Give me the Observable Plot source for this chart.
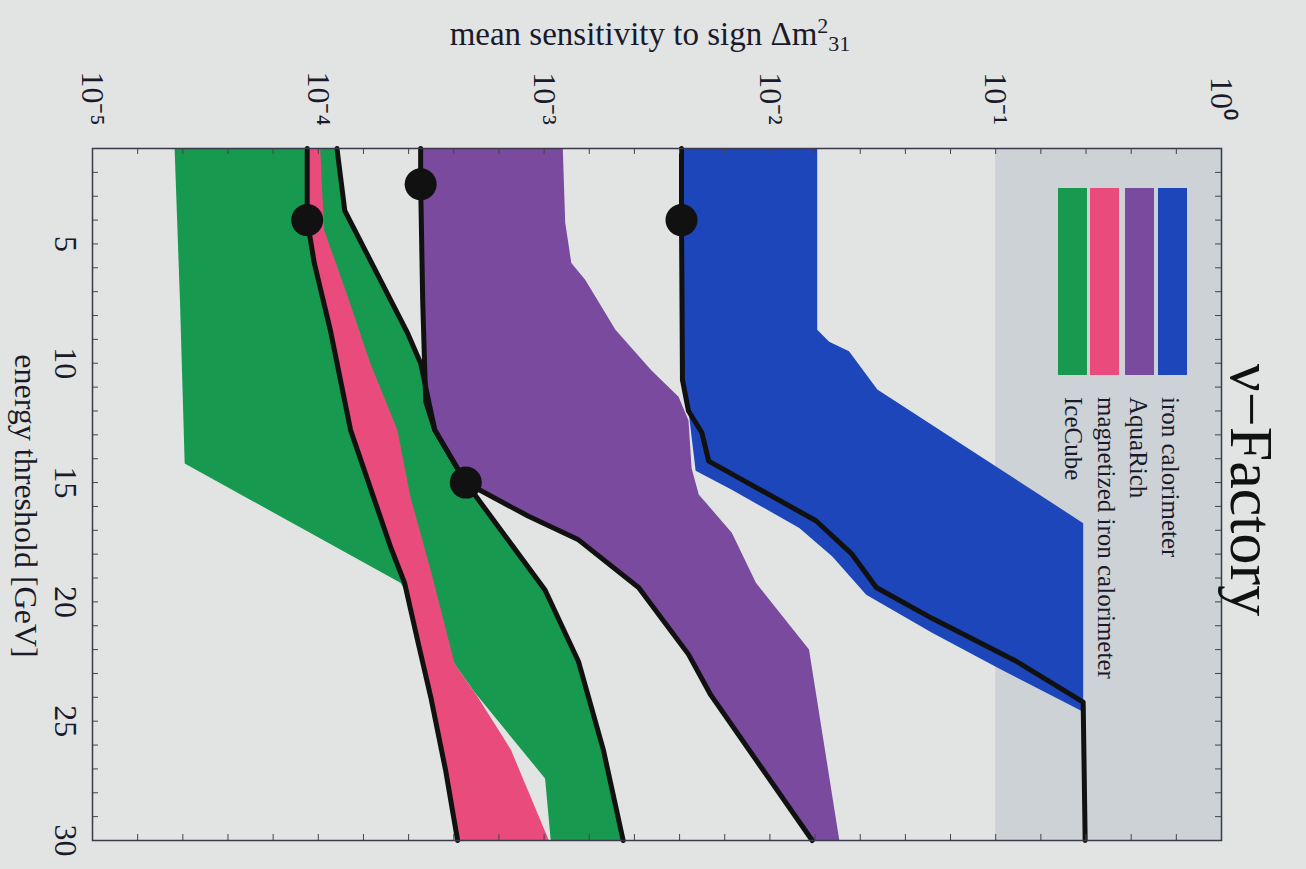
<!DOCTYPE html>
<html><head><meta charset="utf-8">
<script src="https://cdn.jsdelivr.net/npm/d3@7"></script>
<script src="https://cdn.jsdelivr.net/npm/@observablehq/plot@0.6"></script>
<style>
html,body{margin:0;padding:0;background:#dfe2e1;}
#chart{width:1306px;height:869px;}
svg text{font-family:"Liberation Serif",serif;}
</style></head><body><div id="chart"></div>
<script>
// ---- tick labels ----
const sensTicks = [1e-5, 1e-4, 1e-3, 1e-2, 1e-1, 1];
const sensTickLabels = ["10⁻⁵", "10⁻⁴", "10⁻³", "10⁻²", "10⁻¹", "10⁰"];
const energyTicks = [5, 10, 15, 20, 25, 30];
const shadeRange = [0.1, 1];
// ---- legend ----
const detectors = ["iron calorimeter", "AquaRich", "magnetized iron calorimeter", "IceCube"];
const colors = ["#1c46b9", "#7a4a9e", "#e94b7c", "#17994f"];
// ---- data: [energy threshold GeV, mean sensitivity] ----
// IceCube
const iceLow = [[1,2.31e-5],[7.4,2.44e-5],[14.2,2.56e-5],[19.2,2.31e-4],[21.6,3.38e-4],[23.8,4.93e-4],[27.4,1.01e-3],[30,1.07e-3]];
const iceLine = [[1,1.21e-4],[3.6,1.31e-4],[8.75,2.49e-4],[10,2.84e-4],[12.8,3.28e-4],[15,4.5e-4],[19.5,1.01e-3],[22.5,1.42e-3],[26.2,1.83e-3],[30,2.24e-3]];
const iceDot = [15, 4.5e-4];
// magnetized iron calorimeter
const magLine = [[1,8.93e-5],[4,8.93e-5],[5.8,9.6e-5],[8.6,1.13e-4],[12.8,1.39e-4],[17.7,2.09e-4],[19.2,2.41e-4],[21.6,2.75e-4],[24,3.15e-4],[27.1,3.67e-4],[30,4.14e-4]];
const magHigh = [[1,1.02e-4],[4.4,1.06e-4],[7.2,1.35e-4],[10,1.70e-4],[12.8,2.24e-4],[15.6,2.56e-4],[18.7,3.15e-4],[22.6,4.02e-4],[24,5.09e-4],[26.2,7.13e-4],[30,1.05e-3]];
const magDot = [4, 8.93e-5];
// AquaRich
const aquaLine = [[1,2.84e-4],[2.5,2.84e-4],[7.4,2.9e-4],[11.6,2.99e-4],[12.8,3.28e-4],[15,4.5e-4],[16.4,8.49e-4],[17.4,1.42e-3],[19.4,2.62e-3],[22.2,4.36e-3],[23.9,5.47e-3],[30,1.54e-2]];
const aquaHigh = [[1,1.21e-3],[4.1,1.24e-3],[5.8,1.32e-3],[6.5,1.52e-3],[8.6,2.07e-3],[10.3,2.99e-3],[11.4,3.94e-3],[12.4,4.36e-3],[14.4,4.5e-3],[15.5,4.84e-3],[17.1,6.78e-3],[19.2,8.67e-3],[22,1.49e-2],[30,2.03e-2]];
const aquaDot = [2.5, 2.84e-4];
// iron calorimeter
const ironLine = [[1,4.06e-3],[4,4.06e-3],[10.7,4.1e-3],[12,4.36e-3],[12.9,4.99e-3],[14.1,5.36e-3],[16.6,1.6e-2],[18,2.31e-2],[19.4,2.96e-2],[20.7,5.25e-2],[22.5,1.24e-1],[24.2,2.44e-1],[30,2.49e-1]];
const ironLow = [[1,4.06e-3],[10.7,4.1e-3],[12,4.36e-3],[14.5,4.69e-3],[15.3,6.78e-3],[16.9,1.35e-2],[18.1,1.89e-2],[19.7,2.67e-2],[21.3,5.25e-2],[22.8,1.04e-1],[24.6,2.44e-1]];
const ironHigh = [[1,1.62e-2],[8.6,1.62e-2],[9.1,1.83e-2],[9.5,2.24e-2],[11.1,2.99e-2],[16.7,2.44e-1],[24.6,2.44e-1]];
const ironDot = [4, 4.06e-3];

const poly = (low, high) => low.concat(high.slice().reverse());
const bands = [
  {pts: poly(iceLow, iceLine), color: colors[3]},
  {pts: poly(magLine, magHigh), color: colors[2]},
  {pts: poly(aquaLine, aquaHigh), color: colors[1]},
  {pts: poly(ironLow, ironHigh), color: colors[0]}
];
const curves = [iceLine, magLine, aquaLine, ironLine];
const dots = [iceDot, magDot, aquaDot, ironDot];

const W = 1306, H = 869, mT = 148, mB = 29, mL = 92, mR = 85;
const fw = W - mL - mR, fh = H - mT - mB;
const minorX = d3.range(-5, 0.001, 0.2).map(e => Math.pow(10, e));
const minorY = d3.range(1, 31, 1);

const marks = [
  Plot.rect([shadeRange], {x1: d => d[0], x2: d => d[1], fill: "#cdd2d7"}),
];
for (const b of bands) marks.push(Plot.line(b.pts, {x: d => d[1], y: d => d[0], fill: b.color, stroke: "none"}));
for (const c of curves) marks.push(Plot.line(c, {x: d => d[1], y: d => d[0], stroke: "#111", strokeWidth: 5, curve: "linear"}));
marks.push(Plot.dot(dots, {x: d => d[1], y: d => d[0], r: 16, fill: "#111", stroke: "none"}));
marks.push(
  Plot.tickY(minorY, {y: d => d, insetRight: fw - 6, stroke: "#444", strokeWidth: 1}),
  Plot.tickY(minorY, {y: d => d, insetLeft: fw - 6, stroke: "#444", strokeWidth: 1}),
  Plot.tickX(minorX, {x: d => d, insetBottom: fh - 6, stroke: "#444", strokeWidth: 1}),
  Plot.tickX(minorX, {x: d => d, insetTop: fh - 6, stroke: "#444", strokeWidth: 1}),
  Plot.frame({stroke: "#3a3a4a", strokeWidth: 1.5}),
  Plot.text(sensTicks, {x: d => d, text: (d, i) => sensTickLabels[i], frameAnchor: "top", dy: -50, rotate: 90, textAnchor: "middle", lineAnchor: "middle", fontSize: 32, fill: "#1a1a2a"}),
  Plot.text(energyTicks, {y: d => d, text: d => String(d), frameAnchor: "left", dx: -27, rotate: 90, textAnchor: "middle", lineAnchor: "middle", fontSize: 32, fill: "#1a1a2a"})
);

const chart = Plot.plot({
  width: W, height: H, marginTop: mT, marginBottom: mB, marginLeft: mL, marginRight: mR,
  x: {type: "log", domain: [1e-5, 1], axis: null},
  y: {domain: [1, 30], reverse: true, axis: null},
  style: {background: "#e1e4e3", fontFamily: "Liberation Serif, serif"},
  marks
});
document.getElementById("chart").appendChild(chart);

const svg = d3.select(chart);
const serif = "Liberation Serif, serif";
// axis titles
const t = svg.append("text").attr("x", 650).attr("y", 45).attr("text-anchor", "middle")
  .attr("font-family", serif).attr("font-size", 33).attr("fill", "#1a1a2a");
t.append("tspan").attr("font-family", serif).text("mean sensitivity to sign Δm");
t.append("tspan").attr("font-family", serif).attr("dy", -12).attr("font-size", 22).text("2");
t.append("tspan").attr("font-family", serif).attr("dy", 18).attr("font-size", 22).text("31");
svg.append("text").attr("transform", "translate(26,506) rotate(90)").attr("text-anchor", "middle")
  .attr("font-family", serif).attr("dominant-baseline", "central").attr("font-size", 32).attr("fill", "#1a1a2a").text("energy threshold [GeV]");
svg.append("text").attr("transform", "translate(1252,490) rotate(90)").attr("text-anchor", "middle")
  .attr("font-family", serif).attr("dominant-baseline", "central").attr("font-size", 62).attr("fill", "#111").text("ν−Factory");
// legend
const barX = [1158, 1125, 1090, 1058];
const labelX = [1170, 1138, 1106, 1073];
detectors.forEach((name, i) => {
  svg.append("rect").attr("x", barX[i]).attr("y", 188).attr("width", 29).attr("height", 187).attr("fill", colors[i]);
  svg.append("text").attr("transform", `translate(${labelX[i]},397) rotate(90)`).attr("text-anchor", "start")
    .attr("font-family", serif).attr("dominant-baseline", "central").attr("font-size", 25).attr("fill", "#1a1a2a").text(name);
});
</script></body></html>
